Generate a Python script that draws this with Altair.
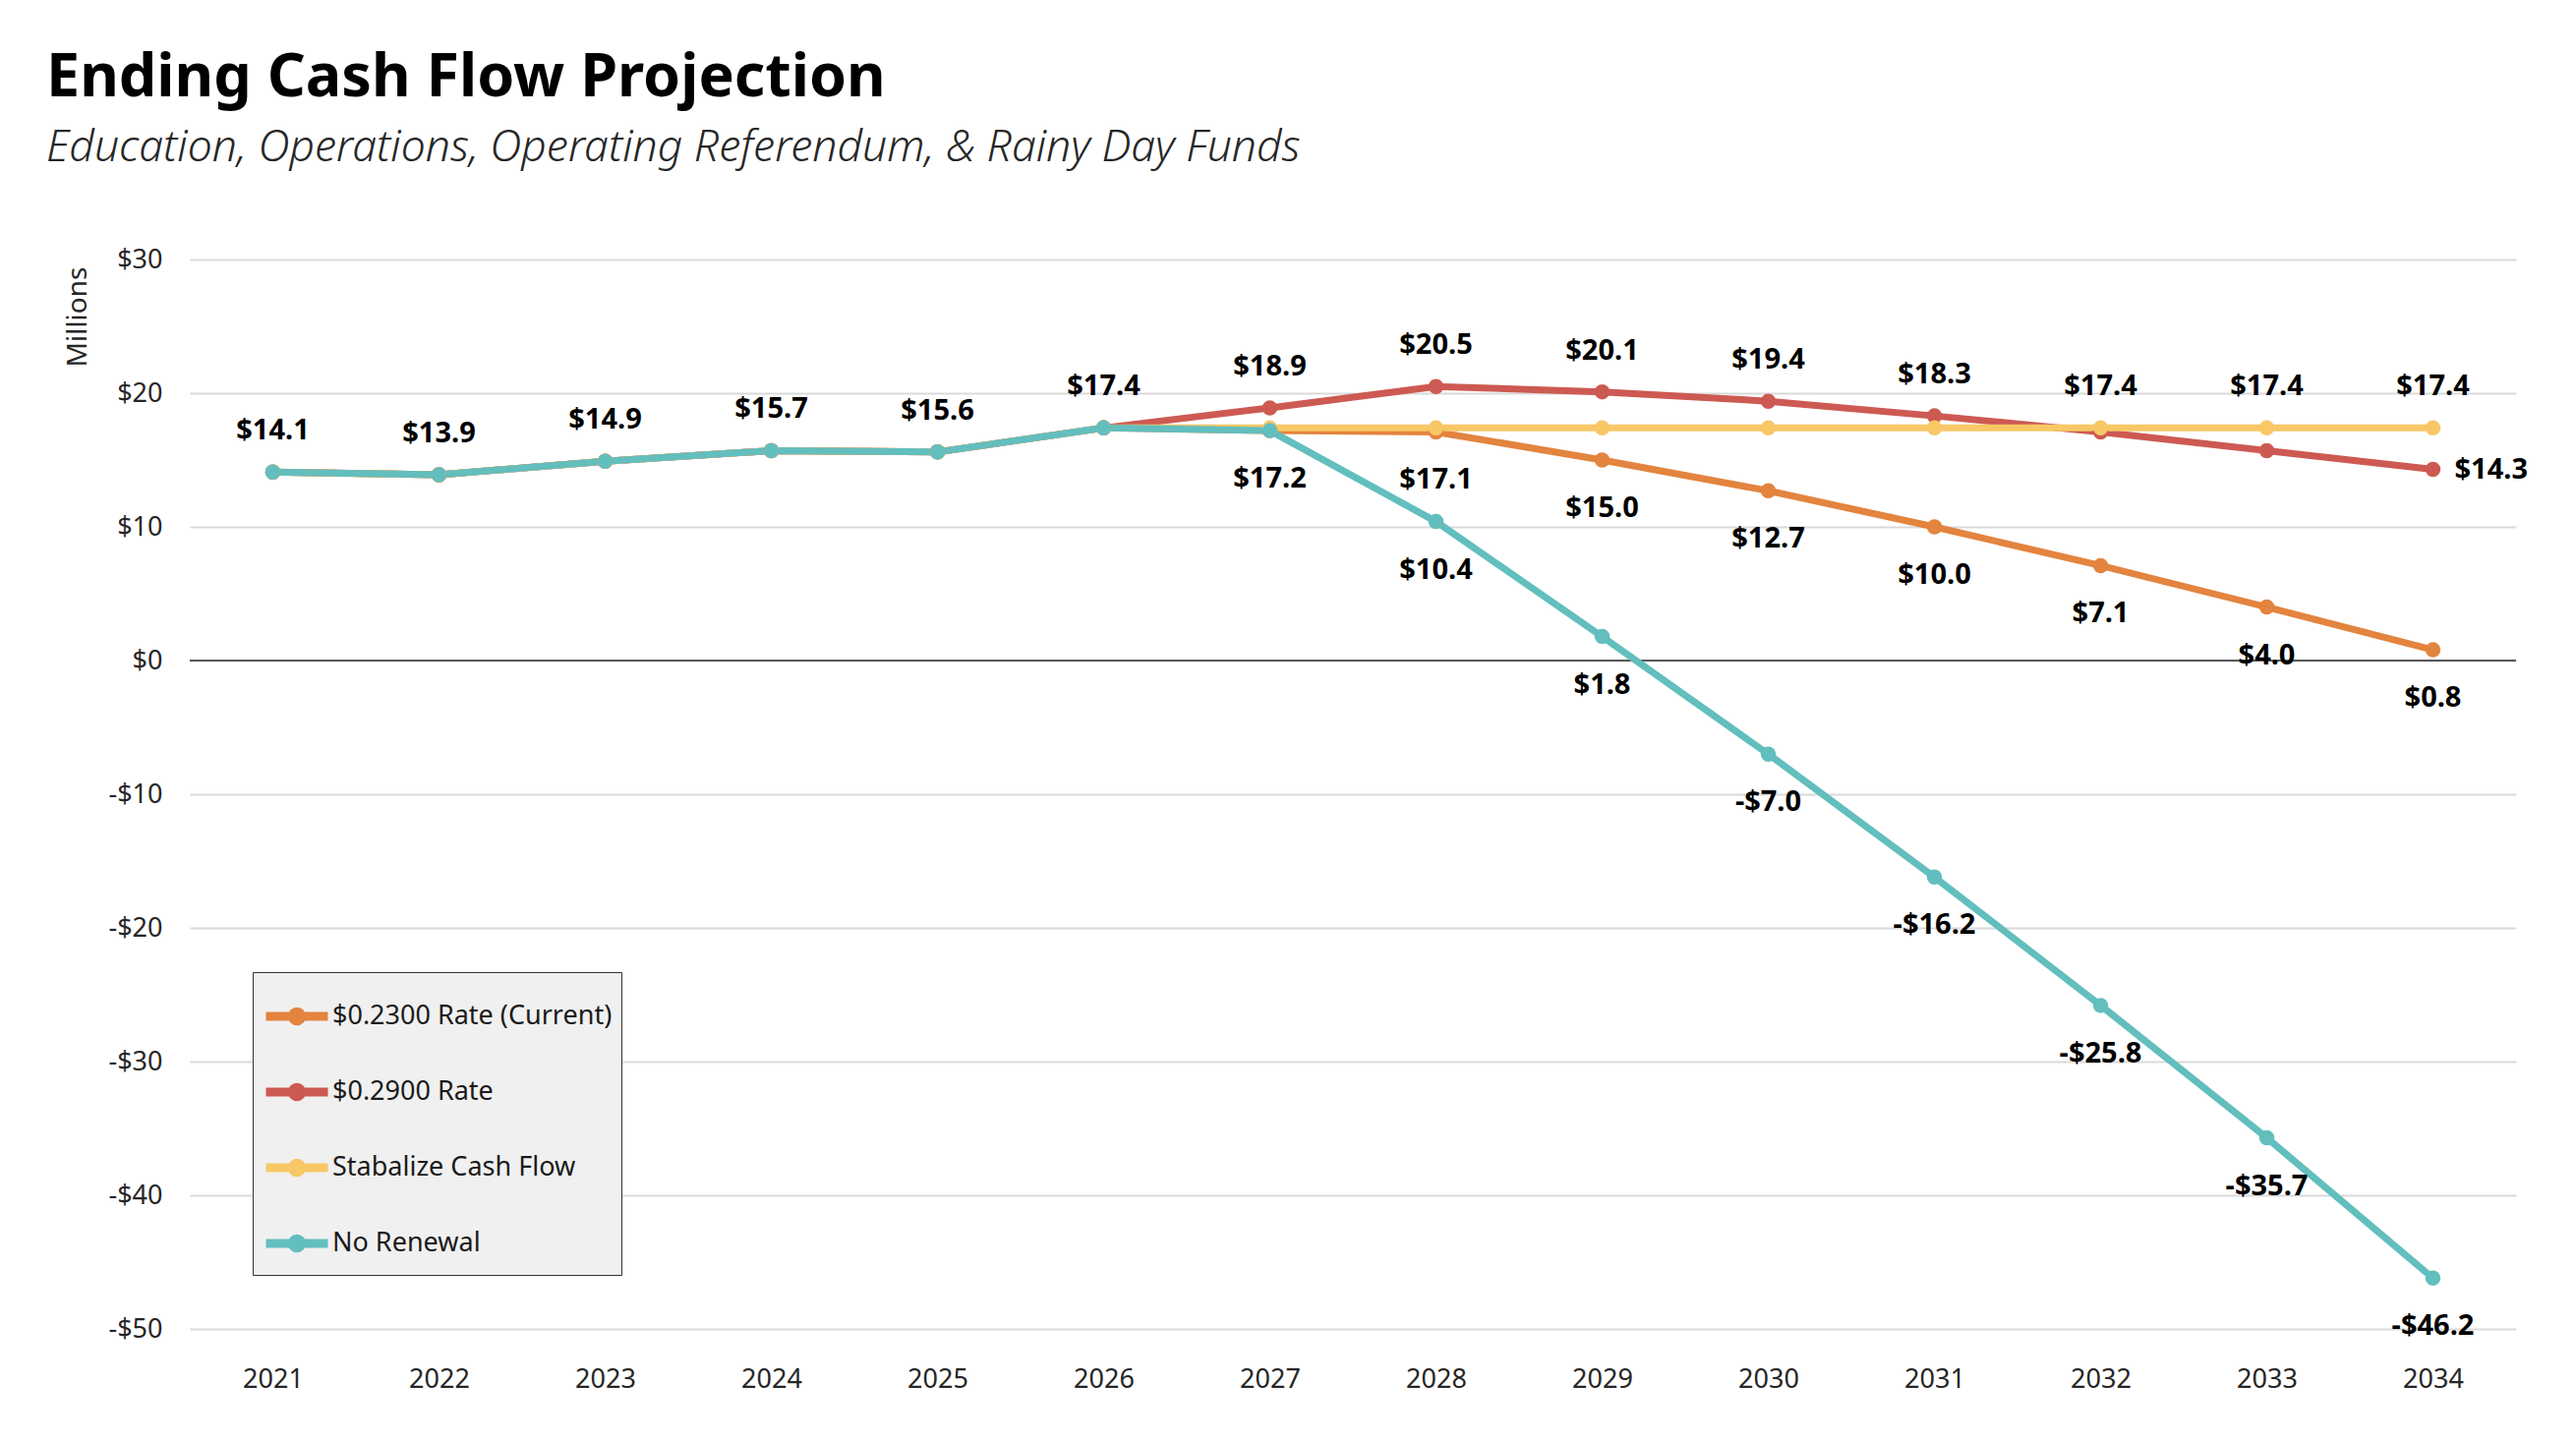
import altair as alt
import pandas as pd

years = [2021, 2022, 2023, 2024, 2025, 2026, 2027, 2028, 2029, 2030, 2031, 2032, 2033, 2034]
series_names = ["$0.2300 Rate (Current)", "$0.2900 Rate", "Stabalize Cash Flow", "No Renewal"]
series_colors = ["#E3843F", "#CD5A52", "#F8C766", "#63BEBE"]

current_rate = [14.1, 13.9, 14.9, 15.7, 15.6, 17.4, 17.2, 17.1, 15.0, 12.7, 10.0, 7.1, 4.0, 0.8]
rate_029 = [14.1, 13.9, 14.9, 15.7, 15.6, 17.4, 18.9, 20.5, 20.1, 19.4, 18.3, 17.1, 15.7, 14.3]
stabilize = [14.1, 13.9, 14.9, 15.7, 15.6, 17.4, 17.4, 17.4, 17.4, 17.4, 17.4, 17.4, 17.4, 17.4]
no_renewal = [14.1, 13.9, 14.9, 15.7, 15.6, 17.4, 17.2, 10.4, 1.8, -7.0, -16.2, -25.8, -35.7, -46.2]

labels_above = [(2021, 14.1), (2022, 13.9), (2023, 14.9), (2024, 15.7), (2025, 15.6), (2026, 17.4),
                (2027, 18.9), (2028, 20.5), (2029, 20.1), (2030, 19.4), (2031, 18.3),
                (2032, 17.4), (2033, 17.4), (2034, 17.4)]
labels_below = [(2027, 17.2), (2028, 17.1), (2029, 15.0), (2030, 12.7), (2031, 10.0), (2032, 7.1),
                (2033, 4.0), (2034, 0.8), (2028, 10.4), (2029, 1.8), (2030, -7.0), (2031, -16.2),
                (2032, -25.8), (2033, -35.7), (2034, -46.2)]
labels_right = [(2034, 14.3)]

y_ticks = [-50, -40, -30, -20, -10, 0, 10, 20, 30]

rows = []
for name, vals in zip(series_names, [current_rate, rate_029, stabilize, no_renewal]):
    for yr, v in zip(years, vals):
        rows.append({"year": str(yr), "value": v, "series": name})
df = pd.DataFrame(rows)


def fmt(v):
    return f"${v:.1f}" if v >= 0 else f"-${abs(v):.1f}"


def label_df(items):
    return pd.DataFrame([{"year": str(y), "value": v, "label": fmt(v)} for y, v in items])


FONT = "Noto Sans"

x_enc = alt.X("year:O", title=None, sort=[str(y) for y in years],
              axis=alt.Axis(labelAngle=0, ticks=False, domain=False, labelFontSize=27, labelFont=FONT,
                            labelColor="#262626", labelPadding=38, grid=False))
y_enc = alt.Y("value:Q", scale=alt.Scale(domain=[-50, 30], nice=False, zero=False),
              axis=alt.Axis(values=y_ticks, title="Millions", ticks=False, domain=False,
                            labelFontSize=27, labelFont=FONT, labelColor="#262626", labelPadding=28,
                            labelExpr="datum.value < 0 ? '-$' + abs(datum.value) : '$' + datum.value",
                            gridColor="#d9d9d9", gridWidth=2,
                            titleAngle=270, titleX=-114, titleY=58, titleAlign="center",
                            titleBaseline="middle", titleFont=FONT, titleFontSize=28,
                            titleFontWeight="normal", titleColor="#262626"))

legend_path = "M-1,0H1M0.15,0A0.15,0.15,0,1,1,-0.15,0A0.15,0.15,0,1,1,0.15,0"
color_enc = alt.Color("series:N", sort=series_names,
                      scale=alt.Scale(domain=series_names, range=series_colors),
                      legend=alt.Legend(title=None, orient="none", legendX=64, legendY=725,
                                        fillColor="#f0f0f0", strokeColor="#333333", padding=9,
                                        symbolType=legend_path, symbolSize=3969, symbolStrokeWidth=9,
                                        labelFont=FONT, labelFontSize=27, labelColor="#1a1a1a",
                                        labelOffset=0, rowPadding=18, labelLimit=600))

base = alt.Chart(df)
lines = base.mark_line(strokeWidth=7).encode(x=x_enc, y=y_enc, color=color_enc)
points = base.mark_point(filled=True, size=240, opacity=1).encode(x=x_enc, y=y_enc, color=color_enc)

zero = alt.Chart(pd.DataFrame({"z": [0]})).mark_rule(color="#595959", strokeWidth=2).encode(y=alt.Y("z:Q"))

text_style = dict(font=FONT, fontSize=29, fontWeight="bold", color="#000000", baseline="middle")
t_above = alt.Chart(label_df(labels_above)).mark_text(dy=-42, align="center", **text_style).encode(
    x=alt.X("year:O"), y=alt.Y("value:Q"), text="label:N")
t_below = alt.Chart(label_df(labels_below)).mark_text(dy=49, align="center", **text_style).encode(
    x=alt.X("year:O"), y=alt.Y("value:Q"), text="label:N")
t_right = alt.Chart(label_df(labels_right)).mark_text(dx=22, align="left", **text_style).encode(
    x=alt.X("year:O"), y=alt.Y("value:Q"), text="label:N")

chart = alt.layer(zero, lines, points, t_above, t_below, t_right).properties(
    width=2366, height=1088,
    autosize="none",
    padding={"left": 193, "top": 264, "right": 61, "bottom": 114},
    background="white",
    title=alt.TitleParams(
        text="Ending Cash Flow Projection",
        subtitle="Education, Operations, Operating Referendum, & Rainy Day Funds",
        anchor="start", frame="group", dx=-146, offset=77,
        font=FONT, fontSize=61, fontWeight="bold", color="#000000",
        subtitleFont=FONT, subtitleFontSize=44.5, subtitleFontStyle="italic", subtitleFontWeight=300,
        subtitleColor="#262626", subtitlePadding=18,
    ),
).configure_view(stroke=None)

chart.save("out.html", embed_options={"renderer": "svg", "actions": False})
